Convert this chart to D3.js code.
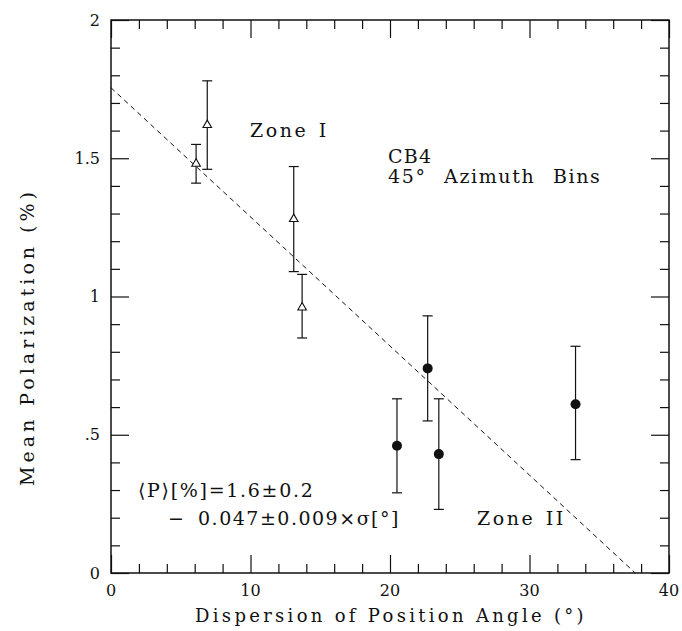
<!DOCTYPE html>
<html>
<head>
<meta charset="utf-8">
<script src="https://cdn.jsdelivr.net/npm/d3@7"></script>
<style>
  body { margin: 0; background: #fff; }
  text { font-family: "DejaVu Serif", "Liberation Serif", serif; fill: #111; }
</style>
</head>
<body>
<script>
// values
const zoneI_sigma = [6.1, 6.9, 13.1, 13.7]
const zoneI_P = [1.48, 1.62, 1.28, 0.96]
const zoneI_lo = [1.41, 1.46, 1.09, 0.85]
const zoneI_hi = [1.55, 1.78, 1.47, 1.08]

const zoneII_sigma = [20.5, 22.7, 23.5, 33.3]
const zoneII_P = [0.46, 0.74, 0.43, 0.61]
const zoneII_lo = [0.29, 0.55, 0.23, 0.41]
const zoneII_hi = [0.63, 0.93, 0.63, 0.82]

const fitIntercept = 1.755
const fitSlope = -0.0467

const xTicks = [0, 10, 20, 30, 40]
const xTickLabels = ["0", "10", "20", "30", "40"]
const yTicks = [0, 0.5, 1, 1.5, 2]
const yTickLabels = ["0", ".5", "1", "1.5", "2"]

const width = 682, height = 631
const plotLeft = 111, plotRight = 669, plotTop = 20, plotBottom = 573

const svg = d3.select("body").append("svg")
    .attr("width", width)
    .attr("height", height)

const x = d3.scaleLinear().domain([0, 40]).range([plotLeft, plotRight])
const y = d3.scaleLinear().domain([0, 2]).range([plotBottom, plotTop])

const xMinor = d3.range(0, 40.01, 2).filter(v => v % 10 !== 0)
const yMinor = d3.range(0, 2.001, 0.1).map(v => +v.toFixed(1)).filter(v => Math.abs(v * 2 - Math.round(v * 2)) > 1e-6)

const major = 18, minor = 9

function addAxis(axis, tx, ty) {
    const g = svg.append("g").attr("transform", `translate(${tx},${ty})`).call(axis)
    g.select(".domain").remove()
    g.selectAll("line").attr("stroke", "#111").attr("stroke-width", 1.2)
    return g
}

// bottom / top
addAxis(d3.axisBottom(x).tickValues(xTicks).tickSize(-major).tickFormat(""), 0, plotBottom)
addAxis(d3.axisBottom(x).tickValues(xMinor).tickSize(-minor).tickFormat(""), 0, plotBottom)
addAxis(d3.axisTop(x).tickValues(xTicks).tickSize(-major).tickFormat(""), 0, plotTop)
addAxis(d3.axisTop(x).tickValues(xMinor).tickSize(-minor).tickFormat(""), 0, plotTop)
// left / right
addAxis(d3.axisLeft(y).tickValues(yTicks).tickSize(-major).tickFormat(""), plotLeft, 0)
addAxis(d3.axisLeft(y).tickValues(yMinor).tickSize(-minor).tickFormat(""), plotLeft, 0)
addAxis(d3.axisRight(y).tickValues(yTicks).tickSize(-major).tickFormat(""), plotRight, 0)
addAxis(d3.axisRight(y).tickValues(yMinor).tickSize(-minor).tickFormat(""), plotRight, 0)

svg.append("rect")
    .attr("x", plotLeft).attr("y", plotTop)
    .attr("width", plotRight - plotLeft).attr("height", plotBottom - plotTop)
    .attr("fill", "none").attr("stroke", "#111").attr("stroke-width", 1.5)

// tick labels
svg.append("g").selectAll("text")
    .data(xTicks)
    .join("text")
    .attr("x", d => x(d))
    .attr("y", plotBottom + 23)
    .attr("text-anchor", "middle")
    .style("font-size", "16px")
    .text((d, i) => xTickLabels[i])

svg.append("g").selectAll("text")
    .data(yTicks)
    .join("text")
    .attr("x", plotLeft - 11)
    .attr("y", d => y(d))
    .attr("dy", "0.35em")
    .attr("text-anchor", "end")
    .style("font-size", "16px")
    .text((d, i) => yTickLabels[i])

// axis titles
svg.append("text")
    .attr("x", 391)
    .attr("y", 622)
    .attr("text-anchor", "middle")
    .style("font-size", "18px")
    .style("letter-spacing", "3.3px")
    .text("Dispersion of Position Angle (°)")

svg.append("text")
    .attr("transform", "translate(34,337) rotate(-90)")
    .attr("text-anchor", "middle")
    .style("font-size", "19px")
    .style("letter-spacing", "4px")
    .text("Mean Polarization (%)")

// fit line
const sigmaEnd = -fitIntercept / fitSlope
svg.append("line")
    .attr("x1", x(0)).attr("y1", y(fitIntercept))
    .attr("x2", x(sigmaEnd)).attr("y2", y(0))
    .attr("stroke", "#111")
    .attr("stroke-width", 1)
    .attr("stroke-dasharray", "5,4")

// points
const zoneI = zoneI_sigma.map((s, i) => ({s, p: zoneI_P[i], lo: zoneI_lo[i], hi: zoneI_hi[i]}))
const zoneII = zoneII_sigma.map((s, i) => ({s, p: zoneII_P[i], lo: zoneII_lo[i], hi: zoneII_hi[i]}))

function errorBars(data) {
    const g = svg.append("g").attr("stroke", "#111").attr("stroke-width", 1.2)
    g.selectAll(".bar").data(data).join("line")
        .attr("x1", d => x(d.s)).attr("x2", d => x(d.s))
        .attr("y1", d => y(d.lo)).attr("y2", d => y(d.hi))
    g.selectAll(".capHi").data(data).join("line")
        .attr("x1", d => x(d.s) - 5).attr("x2", d => x(d.s) + 5)
        .attr("y1", d => y(d.hi)).attr("y2", d => y(d.hi))
    g.selectAll(".capLo").data(data).join("line")
        .attr("x1", d => x(d.s) - 5).attr("x2", d => x(d.s) + 5)
        .attr("y1", d => y(d.lo)).attr("y2", d => y(d.lo))
}
errorBars(zoneI)
errorBars(zoneII)

svg.append("g").selectAll("path")
    .data(zoneI)
    .join("path")
    .attr("transform", d => `translate(${x(d.s)},${y(d.p)})`)
    .attr("d", d3.symbol(d3.symbolTriangle, 32))
    .attr("fill", "#fff")
    .attr("stroke", "#111")
    .attr("stroke-width", 1.1)

svg.append("g").selectAll("circle")
    .data(zoneII)
    .join("circle")
    .attr("cx", d => x(d.s))
    .attr("cy", d => y(d.p))
    .attr("r", 5)
    .attr("fill", "#111")

// annotations
function label(tx, ty, str, size, spacing, wordSpacing) {
    return svg.append("text")
        .attr("x", tx).attr("y", ty)
        .style("font-size", size + "px")
        .style("letter-spacing", spacing + "px")
        .style("word-spacing", (wordSpacing || 0) + "px")
        .text(str)
}
label(250, 137, "Zone I", 19, 2.5, 2)
label(388, 163, "CB4", 19, 1.2)
label(388, 183, "45° Azimuth Bins", 19, 1.6, 10)
label(477, 525, "Zone II", 19, 2.5, 2)
label(138, 497, "⟨P⟩[%]=1.6±0.2", 19, 1.7)
label(168, 525, "−", 19, 0)
label(198, 525, "0.047±0.009×σ[°]", 19, 1.5)
</script>
</body>
</html>
